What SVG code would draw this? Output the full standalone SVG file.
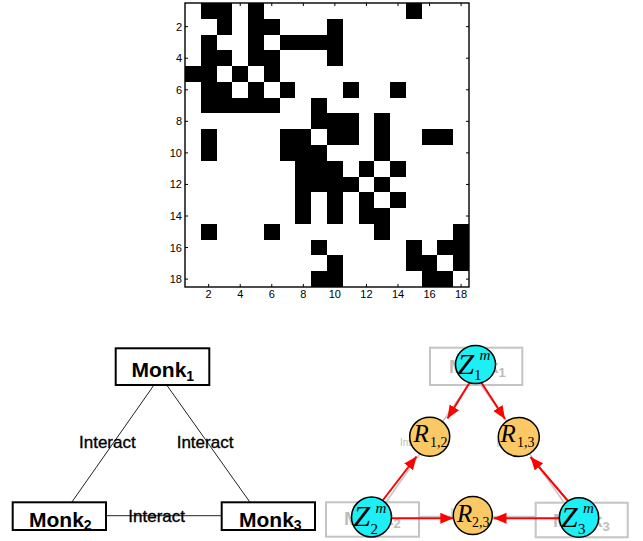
<svg xmlns="http://www.w3.org/2000/svg" width="643" height="541" viewBox="0 0 643 541">
<style>
.ax{font-family:"Liberation Sans",Arial,sans-serif;font-size:11px;fill:#000}
.monk{font-family:"Liberation Sans",Arial,sans-serif;font-size:21px;font-weight:bold;fill:#000}
.lbl{font-family:"Liberation Sans",Arial,sans-serif;font-size:17px;fill:#000;stroke:#000;stroke-width:0.35}
.gmonk{font-family:"Liberation Sans",Arial,sans-serif;font-size:19px;font-weight:bold;fill:#bdbdbd}
.glbl{font-family:"Liberation Sans",Arial,sans-serif;font-size:10px;fill:#bdbdbd}
.box{fill:#fff;stroke:#000;stroke-width:2}
.gbox{fill:#fff;stroke:#c4c4c4;stroke-width:2}
.edge{stroke:#222;stroke-width:1;fill:none}
.gedge{stroke:#c8c8c8;stroke-width:1.5;fill:none}
.arr{stroke:#ff0000;stroke-width:2;fill:none;marker-end:url(#ah)}
.zc{fill:#1cf0f4;stroke:#000;stroke-width:1.5}
.rc{fill:#fac865;stroke:#000;stroke-width:1.5}
.mi{font-family:"Liberation Serif","Times New Roman",serif;font-style:italic;fill:#000}
.mn{font-family:"Liberation Serif","Times New Roman",serif;fill:#000}
</style>
<defs>
<marker id="ah" markerUnits="userSpaceOnUse" markerWidth="14" markerHeight="12" refX="13" refY="5.5" orient="auto">
<path d="M0,0 L13,5.5 L0,11 z" fill="#ff0000"/>
</marker>
</defs>

<g id="matrix">
<rect x="185" y="3" width="284" height="284" fill="#fff"/>
<g transform="translate(185 3) scale(15.7778)" fill="#000" shape-rendering="crispEdges">
<rect x="1" y="0" width="2" height="1"/><rect x="4" y="0" width="1" height="1"/><rect x="14" y="0" width="1" height="1"/>
<rect x="2" y="1" width="1" height="1"/><rect x="4" y="1" width="2" height="1"/><rect x="9" y="1" width="1" height="1"/>
<rect x="1" y="2" width="1" height="1"/><rect x="4" y="2" width="1" height="1"/><rect x="6" y="2" width="4" height="1"/>
<rect x="1" y="3" width="2" height="1"/><rect x="4" y="3" width="2" height="1"/><rect x="9" y="3" width="1" height="1"/>
<rect x="0" y="4" width="2" height="1"/><rect x="3" y="4" width="1" height="1"/><rect x="5" y="4" width="1" height="1"/>
<rect x="1" y="5" width="2" height="1"/><rect x="4" y="5" width="1" height="1"/><rect x="6" y="5" width="1" height="1"/><rect x="10" y="5" width="1" height="1"/><rect x="13" y="5" width="1" height="1"/>
<rect x="1" y="6" width="5" height="1"/><rect x="8" y="6" width="1" height="1"/>
<rect x="8" y="7" width="3" height="1"/><rect x="12" y="7" width="1" height="1"/>
<rect x="1" y="8" width="1" height="1"/><rect x="6" y="8" width="2" height="1"/><rect x="9" y="8" width="2" height="1"/><rect x="12" y="8" width="1" height="1"/><rect x="15" y="8" width="2" height="1"/>
<rect x="1" y="9" width="1" height="1"/><rect x="6" y="9" width="3" height="1"/><rect x="12" y="9" width="1" height="1"/>
<rect x="7" y="10" width="3" height="1"/><rect x="11" y="10" width="1" height="1"/><rect x="13" y="10" width="1" height="1"/>
<rect x="7" y="11" width="4" height="1"/><rect x="12" y="11" width="1" height="1"/>
<rect x="7" y="12" width="1" height="1"/><rect x="9" y="12" width="1" height="1"/><rect x="11" y="12" width="1" height="1"/><rect x="13" y="12" width="1" height="1"/>
<rect x="7" y="13" width="1" height="1"/><rect x="9" y="13" width="1" height="1"/><rect x="11" y="13" width="2" height="1"/>
<rect x="1" y="14" width="1" height="1"/><rect x="5" y="14" width="1" height="1"/><rect x="12" y="14" width="1" height="1"/><rect x="17" y="14" width="1" height="1"/>
<rect x="8" y="15" width="1" height="1"/><rect x="14" y="15" width="1" height="1"/><rect x="16" y="15" width="2" height="1"/>
<rect x="9" y="16" width="1" height="1"/><rect x="14" y="16" width="2" height="1"/><rect x="17" y="16" width="1" height="1"/>
<rect x="8" y="17" width="2" height="1"/><rect x="15" y="17" width="2" height="1"/>
</g>
<rect x="185" y="3" width="284" height="284" fill="none" stroke="#000" stroke-width="1.4"/>
<path stroke="#000" stroke-width="1" fill="none" d="M208.67,287v-3M208.67,3v3M240.22,287v-3M240.22,3v3M271.78,287v-3M271.78,3v3M303.33,287v-3M303.33,3v3M334.89,287v-3M334.89,3v3M366.44,287v-3M366.44,3v3M398,287v-3M398,3v3M429.56,287v-3M429.56,3v3M461.11,287v-3M461.11,3v3M185,26.67h3M469,26.67h-3M185,58.22h3M469,58.22h-3M185,89.78h3M469,89.78h-3M185,121.33h3M469,121.33h-3M185,152.89h3M469,152.89h-3M185,184.44h3M469,184.44h-3M185,216h3M469,216h-3M185,247.56h3M469,247.56h-3M185,279.11h3M469,279.11h-3"/>
<g class="ax" text-anchor="end">
<text x="182" y="30.7">2</text><text x="182" y="62.2">4</text><text x="182" y="93.8">6</text><text x="182" y="125.3">8</text><text x="182" y="156.9">10</text><text x="182" y="188.4">12</text><text x="182" y="220">14</text><text x="182" y="251.6">16</text><text x="182" y="283.1">18</text>
</g>
<g class="ax" text-anchor="middle">
<text x="208.67" y="298">2</text><text x="240.22" y="298">4</text><text x="271.78" y="298">6</text><text x="303.33" y="298">8</text><text x="334.89" y="298">10</text><text x="366.44" y="298">12</text><text x="398" y="298">14</text><text x="429.56" y="298">16</text><text x="461.11" y="298">18</text>
</g>
</g>

<g id="connectors">
<line class="edge" x1="154" y1="385" x2="71.7" y2="502.3"/>
<line class="edge" x1="166.7" y1="385" x2="250" y2="502.3"/>
<line class="edge" x1="106" y1="515.7" x2="221.7" y2="515.7"/>
<line class="gedge" x1="468.3" y1="385" x2="386" y2="502.3"/>
<line class="gedge" x1="481" y1="385" x2="564" y2="502.5"/>
<line class="gedge" x1="419" y1="516.5" x2="535.7" y2="516.5"/>
</g>

<g id="labels-left">
<text class="lbl" x="79" y="448.3">Interact</text>
<text class="lbl" x="176.7" y="448.3">Interact</text>
<text class="lbl" x="128.3" y="521.7">Interact</text>
</g>

<g id="monk1"><rect class="box" x="115.7" y="348.3" width="93.6" height="36.7"/><text class="monk" x="131.5" y="376.7">Monk<tspan font-size="14" dy="4">1</tspan></text></g>
<g id="monk2"><rect class="box" x="12.7" y="502.3" width="93.3" height="27.7"/><text class="monk" x="29" y="526.5">Monk<tspan font-size="14" dy="3.5">2</tspan></text></g>
<g id="monk3"><rect class="box" x="221.7" y="502.3" width="93.3" height="27.7"/><text class="monk" x="239" y="526.5">Monk<tspan font-size="14" dy="3.5">3</tspan></text></g>

<g id="faded-copy">
<text class="glbl" x="400" y="445.5">Interact</text>
<text class="glbl" x="496.5" y="446.5">Interact</text>
<text class="glbl" x="450.5" y="516">Interact</text>
<rect class="gbox" x="430" y="347.7" width="92.3" height="37.3"/><text class="gmonk" x="449" y="373">Monk<tspan font-size="13" dy="4">1</tspan></text>
<rect class="gbox" x="326" y="502.3" width="93" height="34.4"/><text class="gmonk" x="344" y="525">Monk<tspan font-size="13" dy="3">2</tspan></text>
<rect class="gbox" x="535.7" y="502.7" width="92" height="34.6"/><text class="gmonk" x="553" y="527">Monk<tspan font-size="13" dy="4">3</tspan></text>
</g>

<g id="arrows">
<line class="arr" x1="470" y1="382" x2="447.5" y2="418.5"/>
<line class="arr" x1="481" y1="382" x2="505" y2="419"/>
<line class="arr" x1="383" y1="500" x2="416.5" y2="456.5"/>
<line class="arr" x1="568" y1="501" x2="530.5" y2="457"/>
<line class="arr" x1="390" y1="518.3" x2="453.3" y2="518.3"/>
<line class="arr" x1="560" y1="518.3" x2="493.5" y2="518.3"/>
</g>

<g id="Z1"><ellipse class="zc" cx="475.5" cy="364.5" rx="20" ry="19"/><text class="mi" x="457.5" y="373.5" font-size="30">Z</text><text class="mi" x="479.5" y="360" font-size="15">m</text><text class="mn" x="474" y="380" font-size="15">1</text></g>
<g id="Z2"><circle class="zc" cx="371.5" cy="517" r="20"/><text class="mi" x="353.5" y="526" font-size="30">Z</text><text class="mi" x="375.5" y="512.5" font-size="15">m</text><text class="mn" x="370.5" y="533.5" font-size="15">2</text></g>
<g id="Z3"><circle class="zc" cx="579" cy="517.5" r="19.7"/><text class="mi" x="561" y="526.5" font-size="30">Z</text><text class="mi" x="583" y="513" font-size="15">m</text><text class="mn" x="578" y="534" font-size="15">3</text></g>
<g id="R12"><ellipse class="rc" cx="429.7" cy="436.7" rx="20" ry="19.5"/><text class="mi" x="413.5" y="442" font-size="25">R</text><text class="mn" x="430" y="446.7" font-size="14">1,2</text></g>
<g id="R13"><ellipse class="rc" cx="518.8" cy="437" rx="20.5" ry="19.5"/><text class="mi" x="500.5" y="441.5" font-size="25">R</text><text class="mn" x="517" y="446.7" font-size="14">1,3</text></g>
<g id="R23"><ellipse class="rc" cx="472.8" cy="515.5" rx="19.5" ry="19"/><text class="mi" x="457" y="522" font-size="25">R</text><text class="mn" x="472" y="526.7" font-size="14">2,3</text></g>
</svg>
